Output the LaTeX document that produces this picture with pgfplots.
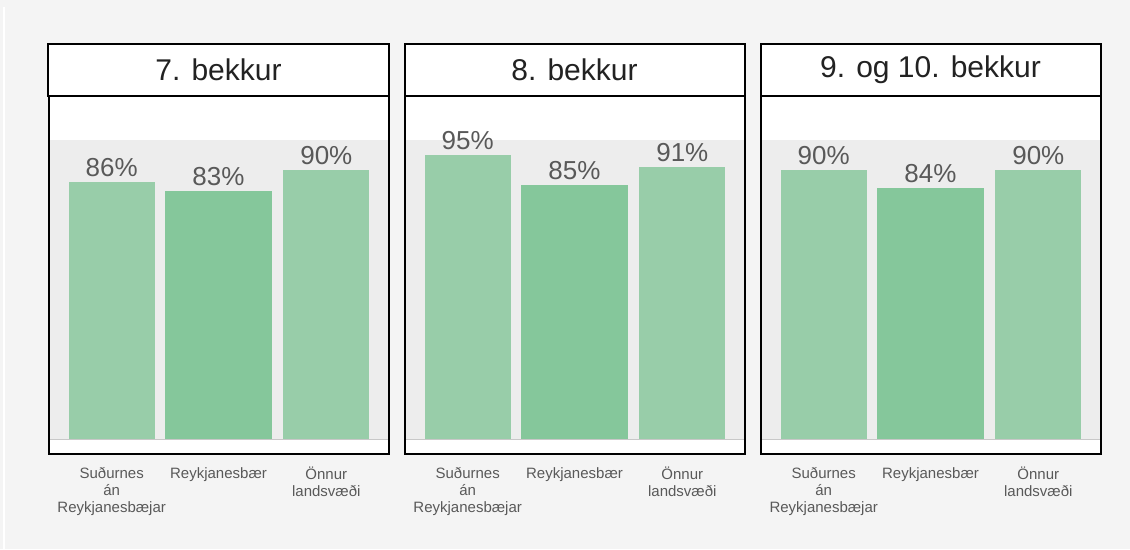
\documentclass[border=0pt]{standalone}
\usepackage{fontspec}
\setmainfont{Liberation Sans}
\usepackage{pgfplots}
\pgfplotsset{compat=1.18}
\definecolor{bg}{HTML}{F4F4F4}
\definecolor{band}{HTML}{EDEDED}
\definecolor{barA}{HTML}{98CDA9}
\definecolor{barB}{HTML}{85C79B}
\definecolor{labgray}{HTML}{595959}
\definecolor{titlegray}{HTML}{222222}
\definecolor{zline}{HTML}{C8C8C8}
\newcommand\tl[1]{\begin{tabular}[t]{@{}c@{}}#1\end{tabular}}
\pgfplotsset{
  panel/.style={
    scale only axis, width=340pt, height=358pt, anchor=south west,
    xmin=0, xmax=339, ymin=-4.85, ymax=114.9,
    axis on top,
    axis line style={line width=2pt, black},
    axis background/.style={fill=white},
    ytick=\empty, xtick={63,169.5,277},
    xticklabels={{\tl{Suðurnes\\án\\Reykjanesbæjar}},{\tl{Reykjanesbær}},{\tl{Önnur\\landsvæði}}},
    major tick length=0pt,
    xticklabel style={font=\fontsize{15}{17}\selectfont, text=labgray, anchor=north, yshift=-10pt},
    clip=false,
    /pgf/number format/assume math mode=true,
    nodes near coords={\pgfmathprintnumber{\pgfplotspointmeta}\%},
    every node near coord/.append style={font=\fontsize{26}{30}\selectfont, text=labgray, anchor=south, inner sep=0pt, yshift=5pt},
  },
  barone/.style={ybar, bar width=86pt, bar shift=0pt, fill=barA, draw=none},
  bartwo/.style={ybar, bar width=107pt, bar shift=0pt, fill=barB, draw=none},
}
\newcommand\header[1]{%
  \node[draw=black, line width=2pt, fill=white, minimum width=340pt, minimum height=52pt,
        anchor=south, outer sep=0pt, inner sep=0pt, font=\fontsize{30}{36}\selectfont, text=titlegray]
        at (rel axis cs:0.5,1) {#1};}
\begin{document}
\begin{tikzpicture}
\fill[bg] (0,0) rectangle (1130pt,549pt);
\draw[white, line width=1.5pt] (4pt,0) -- (4pt,542pt);
% Panel 1
\begin{axis}[panel, at={(48.5pt,95.5pt)}]
\fill[band] (axis cs:0,0) rectangle (axis cs:339,100);
\addplot[barone] coordinates {(63,86)};
\addplot[bartwo] coordinates {(169.5,83)};
\addplot[barone] coordinates {(277,90)};
\draw[zline, line width=1pt] (axis cs:0,0) -- (axis cs:339,0);
\header{7. bekkur}
\end{axis}
% Panel 2
\begin{axis}[panel, at={(404.5pt,95.5pt)}]
\fill[band] (axis cs:0,0) rectangle (axis cs:339,100);
\addplot[barone] coordinates {(63,95)};
\addplot[bartwo] coordinates {(169.5,85)};
\addplot[barone] coordinates {(277,91)};
\draw[zline, line width=1pt] (axis cs:0,0) -- (axis cs:339,0);
\header{8. bekkur}
\end{axis}
% Panel 3
\begin{axis}[panel, at={(760.5pt,95.5pt)}]
\fill[band] (axis cs:0,0) rectangle (axis cs:339,100);
\addplot[barone] coordinates {(63,90)};
\addplot[bartwo] coordinates {(169.5,84)};
\addplot[barone] coordinates {(277,90)};
\draw[zline, line width=1pt] (axis cs:0,0) -- (axis cs:339,0);
\header{9. og 10. bekkur}
\end{axis}
\end{tikzpicture}
\end{document}
